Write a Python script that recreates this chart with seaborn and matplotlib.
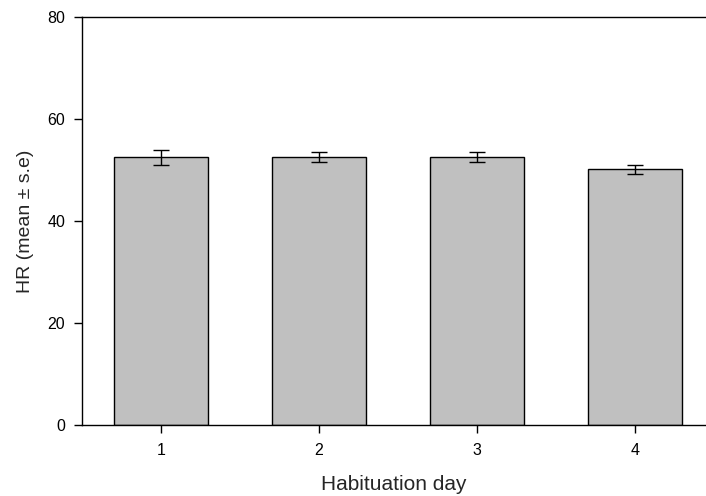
import matplotlib
matplotlib.use('Agg')
import matplotlib.pyplot as plt
import seaborn as sns
import pandas as pd

# valores
days = ['1', '2', '3', '4']
hr_mean = [52.5, 52.6, 52.55, 50.15]
hr_se = [1.5, 1.0, 1.05, 0.85]

sns.set_style('ticks')
plt.rcParams['font.family'] = ['Liberation Sans', 'DejaVu Sans']

df = pd.DataFrame({'day': days, 'hr': hr_mean})

fig = plt.figure(figsize=(7.06, 4.96), dpi=100)
ax = fig.add_axes([82 / 706, 71 / 496, 1 - 82 / 706, 408 / 496])

sns.barplot(data=df, x='day', y='hr', color='#c0c0c0', saturation=1,
            edgecolor='black', linewidth=1.0, width=0.6, errorbar=None, ax=ax)
ax.errorbar(range(len(days)), hr_mean, yerr=hr_se, fmt='none',
            ecolor='black', elinewidth=1.0, capsize=6, capthick=1.0)

ax.set_ylim(0, 80)
ax.set_xlim(-0.5, 3.45)
ax.set_yticks([0, 20, 40, 60, 80])
ax.tick_params(axis='both', direction='out', length=6, width=1, labelsize=11.5, colors='black')
ax.tick_params(axis='x', pad=7)
ax.tick_params(axis='y', pad=6)
for side in ['left', 'bottom', 'top']:
    ax.spines[side].set_linewidth(1.0)
    ax.spines[side].set_color('black')
    ax.spines[side].set_visible(True)
ax.spines['right'].set_visible(False)

ax.set_xlabel('Habituation day', fontsize=15, labelpad=12)
ax.set_ylabel('HR (mean ± s.e)', fontsize=14, labelpad=10)

fig.savefig('out.png', dpi=100)
